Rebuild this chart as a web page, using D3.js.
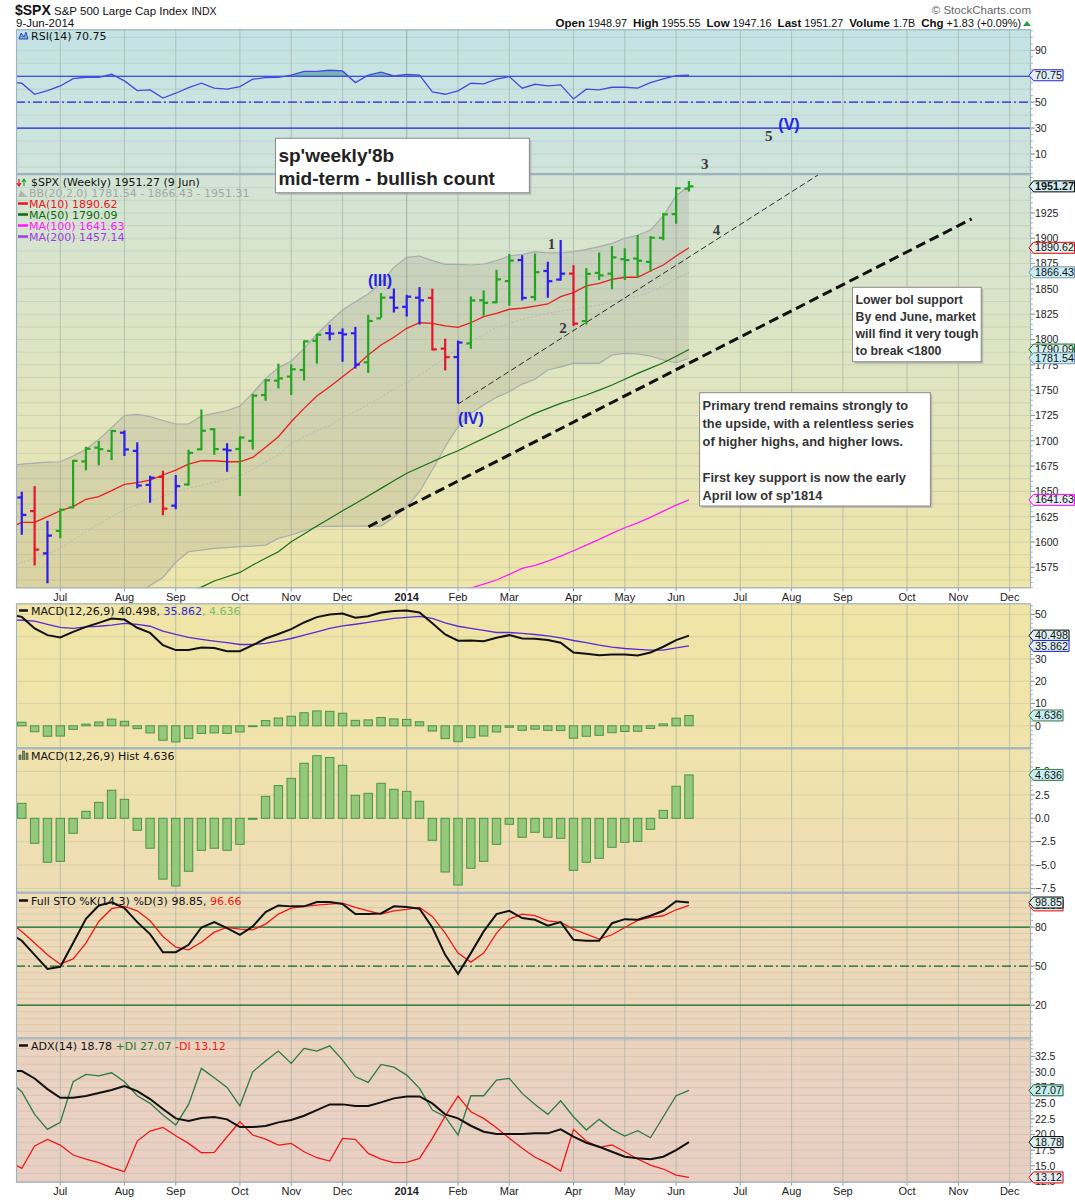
<!DOCTYPE html>
<html><head><meta charset="utf-8">
<script src="https://cdn.jsdelivr.net/npm/d3@7/dist/d3.min.js"></script>
<style>body{margin:0;background:#fff}svg{display:block}</style>
</head><body>
<svg id="c" width="1075" height="1200"></svg>
<script>
// ---------------- DATA ----------------
// first week (2013-06-03) lies just left of the visible window; it only feeds the lines' left edge
const weeks = ["2013-06-03","2013-06-10","2013-06-17","2013-06-24","2013-07-01","2013-07-08","2013-07-15","2013-07-22","2013-07-29","2013-08-05","2013-08-12","2013-08-19","2013-08-26","2013-09-02","2013-09-09","2013-09-16","2013-09-23","2013-09-30","2013-10-07","2013-10-14","2013-10-21","2013-10-28","2013-11-04","2013-11-11","2013-11-18","2013-11-25","2013-12-02","2013-12-09","2013-12-16","2013-12-23","2013-12-30","2014-01-06","2014-01-13","2014-01-20","2014-01-27","2014-02-03","2014-02-10","2014-02-17","2014-02-24","2014-03-03","2014-03-10","2014-03-17","2014-03-24","2014-03-31","2014-04-07","2014-04-14","2014-04-21","2014-04-28","2014-05-05","2014-05-12","2014-05-19","2014-05-26","2014-06-02","2014-06-09"];
const open = [1631.7,1644.0,1630.6,1588.8,1611.0,1634.2,1679.6,1693.2,1690.0,1708.0,1690.0,1656.4,1664.3,1635.9,1656.8,1691.6,1711.4,1691.4,1691.9,1699.9,1745.2,1759.4,1763.4,1769.9,1798.8,1806.3,1806.6,1806.2,1777.5,1820.9,1841.5,1832.3,1841.3,1841.1,1791.0,1782.7,1796.2,1838.8,1836.8,1857.7,1878.5,1842.0,1867.7,1859.2,1865.1,1818.2,1865.8,1865.0,1879.4,1880.0,1876.7,1900.5,1923.9,1948.97];
const high = [1646.5,1648.7,1654.2,1620.1,1632.1,1680.2,1693.1,1698.8,1709.7,1709.2,1697.5,1664.5,1669.5,1665.2,1690.2,1729.9,1711.4,1696.6,1703.4,1745.3,1759.8,1775.2,1774.5,1798.2,1804.8,1813.6,1810.0,1811.5,1823.4,1844.9,1849.4,1843.2,1850.8,1849.3,1799.9,1798.0,1841.6,1847.5,1867.9,1883.6,1882.4,1884.0,1875.9,1897.3,1872.5,1869.6,1884.9,1891.3,1889.1,1902.2,1901.3,1924.0,1949.5,1955.55];
const low = [1598.2,1608.1,1577.7,1560.3,1604.6,1634.2,1671.8,1676.7,1681.9,1686.0,1654.0,1639.8,1627.5,1633.4,1656.8,1691.6,1687.1,1670.4,1646.5,1692.4,1740.5,1752.7,1746.2,1760.6,1777.2,1800.1,1779.1,1772.3,1768.0,1822.4,1827.7,1823.7,1815.8,1790.3,1770.5,1737.9,1791.8,1824.6,1836.8,1834.4,1839.6,1839.5,1842.3,1859.2,1814.4,1815.8,1859.7,1850.6,1859.8,1862.4,1868.1,1899.0,1915.4,1947.16];
const close = [1643.38,1626.73,1592.43,1606.28,1631.89,1680.19,1692.09,1691.65,1709.67,1691.42,1655.83,1663.5,1632.97,1655.17,1687.99,1709.91,1691.75,1690.5,1703.2,1744.5,1759.77,1761.64,1770.61,1798.18,1804.76,1805.81,1805.09,1775.32,1818.32,1841.4,1831.37,1842.37,1838.7,1790.29,1782.59,1797.02,1838.63,1836.25,1859.45,1878.04,1841.13,1866.52,1857.62,1865.09,1815.69,1864.85,1863.4,1881.14,1878.48,1877.86,1900.53,1923.57,1949.44,1951.27];
const barColorCodes = "GBRBGGGGGBBBRBGGGBGGGGGGGBBBGGBBBRRBGGGGBGBBRGGGGGGGGG";
const bbUpper = [1675,1677,1678,1679,1679.3,1685,1691.6,1701.4,1713,1724.8,1726.1,1723.8,1720,1716.6,1716.6,1724.5,1727.1,1729.7,1734.3,1747,1761.7,1772.2,1778.8,1791.3,1805.2,1817.6,1829.2,1837.4,1845,1856.1,1871.3,1881.2,1882.5,1877.9,1874.3,1874.3,1873.6,1874.6,1877.9,1882.5,1884.2,1886.8,1885.5,1885.5,1886.8,1889,1891.7,1895,1900,1903,1908,1922,1942,1951.31];
const bbMid = [1574,1580,1584,1588,1594,1602,1610,1618,1625,1632,1637,1641,1645,1650,1653,1656,1659,1662,1666,1671,1679,1686,1697,1704,1710,1715,1723,1729,1736,1743,1751,1757,1765,1773,1782,1791,1798,1805,1812,1816,1820,1823,1826,1828,1830,1832,1834,1837,1840,1843,1847,1853,1860,1866.43];
const bbLower = [1478,1483,1490,1497,1509,1519,1528,1535,1537,1540,1548,1557,1565,1580,1590.4,1592,1593.8,1594.5,1595.4,1596,1597,1603.6,1606.9,1611,1615.1,1615.5,1615.8,1615.8,1615.8,1615.8,1624.4,1634.9,1649.7,1671.1,1694.1,1714,1727.1,1735.3,1742.9,1748.5,1756,1760.7,1769.9,1773,1776.5,1776.5,1776.5,1784.7,1786.4,1785.7,1783.7,1779.8,1777.1,1781.54];
const ma10 = [1613.7,1619.4,1619.4,1625,1630.9,1635,1642.2,1644.8,1650.7,1657,1658.6,1661.2,1666.2,1671.1,1677,1680.3,1680.3,1679.3,1679.3,1683.6,1693.5,1704,1718.8,1732,1744.2,1753.4,1763.3,1773.2,1784.7,1794.6,1802.2,1811.1,1816.6,1816,1813.4,1812.1,1816.6,1822.6,1825.9,1829.9,1830.9,1833.1,1835.1,1842.3,1846.3,1852.9,1855.5,1859.5,1861.5,1861.5,1867.7,1873.6,1882.5,1890.62];
const ma50 = [null,null,null,null,null,null,null,null,null,null,null,null,null,null,1550,1555.5,1561.5,1565.7,1570,1577.3,1584,1590.4,1600.3,1608,1615.8,1623.3,1630.9,1638,1645.4,1653,1660.5,1667.9,1673.6,1679.3,1685,1690.2,1696.3,1702.4,1708.5,1714.6,1721,1727.1,1732,1737,1741,1745.2,1750,1755.1,1760.8,1766.6,1771.8,1777.1,1783.5,1790.09];
const ma100 = [null,null,null,null,null,null,null,null,null,null,null,null,null,null,null,null,null,null,null,null,null,null,null,null,null,null,null,null,null,null,null,null,null,null,null,1550,1554.5,1558.5,1562.5,1568,1574,1577,1581.2,1586,1591.4,1597,1602.7,1608.5,1614.1,1619,1624.4,1630.5,1636.5,1641.63];
const ma200Last = 1457.14;
const rsi = [65.5,64.6,56.1,58.9,62.5,68.2,69.2,69.2,71.5,66.4,58.9,59.5,53.1,56.9,61.2,64.6,60.8,60.0,62.0,67.7,68.9,69.2,70.8,73.8,73.8,74.6,74.1,65.1,70.8,73.1,70.2,71.5,70.8,57.9,56.1,58.7,64.6,64.1,67.7,69.7,60.8,63.8,62.5,63.3,52.5,60.0,59.5,61.5,61.5,60.8,65.1,67.9,70.5,70.75];
const macd = [50.0,48.9,43.7,40.7,39.7,42.2,44.4,46.2,48.2,47.7,44.0,41.7,36.2,34.0,34.0,35.2,34.9,33.5,33.5,36.2,39.2,41.2,43.4,46.4,48.8,50.0,50.4,48.5,49.2,50.9,51.5,51.8,50.9,46.0,41.0,38.2,38.3,38.0,39.5,40.7,39.2,39.1,38.5,37.3,32.9,32.3,31.7,32.0,32.0,31.6,32.9,35.5,38.5,40.498];
const macdSignal = [47.6,47.4,47.0,45.5,44.2,43.7,44.4,44.7,45.2,46.0,45.5,44.7,42.5,41.0,39.7,38.8,38.0,37.3,36.5,36.5,37.0,38.0,39.2,40.7,42.2,43.7,44.9,45.6,46.4,47.3,48.2,48.7,49.1,48.2,46.2,44.7,43.7,42.8,41.9,41.9,41.5,41.0,40.4,39.5,38.3,37.3,36.2,35.3,34.7,34.3,34.0,34.0,35.0,35.862];
const macdHist = [2.4,1.6,-2.67,-4.7,-4.6,-1.6,0.75,1.7,3.0,2.03,-1.28,-3.2,-6.5,-7.23,-5.66,-3.42,-3.2,-3.42,-2.78,-0.1,2.35,3.5,4.27,5.88,6.69,6.5,5.66,2.46,2.67,3.74,3.1,2.88,1.82,-2.35,-5.74,-7.13,-5.34,-4.6,-2.78,-0.64,-2.03,-1.5,-2.03,-2.14,-5.56,-4.7,-4.27,-3.1,-2.56,-2.46,-1.18,0.85,3.42,4.636];
const stoK = [75.7,69.5,58.7,47.9,49.5,67.7,86.4,96.6,99.0,94.6,83.8,74.6,60.7,60.7,66.4,79.7,83.8,79.2,74.1,80.5,91.5,96.6,95.9,95.9,99.2,99.2,97.7,90.0,90.0,90.5,95.9,95.4,94.1,79.7,58.7,44.1,60.0,76.7,90.0,92.5,86.9,85.6,81.0,83.8,70.2,69.5,69.5,83.0,86.1,85.6,88.7,92.5,99.8,98.85];
const stoD = [84.0,76.6,67.7,58.7,51.5,55.6,67.7,84.3,94.1,95.9,92.5,84.8,72.8,64.6,62.5,68.4,76.1,79.7,78.4,77.9,82.3,90.0,94.6,95.9,96.9,97.7,98.4,95.1,92.5,90.0,92.5,93.6,95.1,88.2,75.4,60.0,53.1,60.0,75.4,86.1,90.0,88.8,84.8,83.6,78.4,74.6,70.8,74.1,79.7,85.1,87.4,88.7,93.3,96.66];
const adx = [30.2,30.15,28.97,27.27,25.88,25.88,26.15,26.63,27.11,27.75,26.95,25.67,24.07,22.58,22.15,22.63,22.79,22.42,21.19,21.19,21.35,21.94,22.31,23.0,23.91,24.82,24.82,24.55,24.55,25.14,25.78,26.09,26.09,24.98,23.22,22.58,21.4,20.44,20.07,20.07,20.07,20.2,20.18,20.82,19.64,18.68,18.04,17.24,16.44,16.18,16.02,16.44,17.51,18.78];
const plusDI = [28.6,26.84,23.22,20.82,21.94,28.44,29.62,29.4,29.88,28.44,26.2,24.98,23.11,21.51,24.82,30.58,29.08,27.54,24.6,30.04,31.75,33.35,31.38,33.78,33.35,34.2,31.91,29.24,28.34,31.22,30.79,29.51,27.38,23.91,22.84,19.91,26.2,26.2,28.71,28.98,26.58,24.8,23.22,25.4,22.84,20.71,22.42,20.82,19.75,20.6,19.48,22.84,26.2,27.07];
const minusDI = [15.7,14.58,18.15,19.22,18.31,16.71,16.07,15.48,14.68,14.04,18.95,20.55,21.14,19.8,18.58,17.08,17.14,19.64,22.04,19.91,19.27,18.31,18.58,17.24,16.28,15.75,19.38,19.22,16.98,16.07,15.48,15.54,16.18,19.38,22.95,26.15,23.64,22.58,21.08,19.38,17.78,16.35,15.38,14.15,20.82,18.95,17.94,18.31,17.24,16.07,15.11,14.47,13.51,13.12];
const monthLabels = ["Jul","Aug","Sep","Oct","Nov","Dec","2014","Feb","Mar","Apr","May","Jun","Jul","Aug","Sep","Oct","Nov","Dec"];
const monthWeek = [4,9,13,18,22,26,31,35,39,44,48,52,57,61,65,70,74,78];
const rsiTicks = [90,50,30,10];
const priceTicks = [1925,1900,1875,1850,1825,1800,1775,1750,1725,1700,1675,1650,1625,1600,1575];
const macdTicks = [50,30,20,10,0];
const histTicks = [5.0,2.5,0.0,-2.5,-5.0,-7.5];
const stoTicks = [80,50,20];
const adxTicks = [32.5,30.0,27.5,25.0,22.5,20.0,17.5,15.0,12.5];
// annotations: [week position, price]
const thinTrend = [[35,1736.3],[63.06,1962.5]];
const thickTrend = [[28.02,1615.1],[75.03,1919.1]];
const waveText = ["(III)","(IV)","(V)","1","2","3","4","5"];
const waveWeek = [28.92,36.01,60.8,42.29,43.18,54.23,55.14,59.21];
const wavePrice = [1858.8,1722.5,2011.9,1894.4,1811.4,1972.9,1908.2,2001.1];
const noteBoxes = [
  {w0:20.77,w1:40.56,p0:1998.8,p1:1945.0,lines:["sp'weekly'8b","mid-term - bullish count"]},
  {w0:65.75,w1:75.78,p0:1851.6,p1:1778.1,lines:["Lower bol support","By end June, market","will find it very tough","to break <1800"]},
  {w0:53.83,w1:71.82,p0:1747.5,p1:1635.6,lines:["Primary trend remains strongly to","the upside, with a relentless series","of higher highs, and higher lows.","","First key support is now the early","April low of sp'1814"]}
];

// ---------------- LAYOUT ----------------
const L = 16, R = 1031;
const svg = d3.select('#c');
const defs = svg.append('defs');
const x = d3.scaleLinear().domain([0.548, 79.66]).range([L, R]);
const last = a => a[a.length-1];

const panelCfg = {
  rsi: {top:29.3, bottom:174, domain:[-5.4,106.2], c:['#c4e3e5','#cfe4db'], grid:d3.range(0,101,10), minor:5},
  main:{top:174, bottom:588.3, domain:[1554.3,1963.5], c:['#d2e4d6','#eee5a9'], grid:d3.range(1562.5,1963,12.5), minor:5},
  macd:{top:603.3, bottom:748.3, domain:[-10.1,55.0], c:['#f0e5a6','#f0e3ab'], grid:d3.range(-10,51,10), minor:2},
  hist:{top:748.3, bottom:892.7, domain:[-7.95,7.48], c:['#f0e3ac','#eedcb4'], grid:d3.range(-7.5,7.6,2.5), minor:0.5},
  sto: {top:892.7, bottom:1038.3, domain:[-5.4,106.4], c:['#eedcb5','#ecd5bc'], grid:d3.range(0,101,5), minor:5},
  adx: {top:1038.3, bottom:1182.7, domain:[12.28,35.4], c:['#ebd3bf','#e9cfc3'], grid:d3.range(12.5,35.1,1.25), minor:0.625}
};
const P = {};
Object.entries(panelCfg).forEach(([k,c])=>{
  const y = d3.scaleLinear().domain(c.domain).range([c.bottom,c.top]);
  const gr = defs.append('linearGradient').attr('id','bg-'+k).attr('x1',0).attr('y1',0).attr('x2',0).attr('y2',1);
  gr.append('stop').attr('offset',0).attr('stop-color',c.c[0]);
  gr.append('stop').attr('offset',1).attr('stop-color',c.c[1]);
  svg.append('rect').attr('x',L).attr('y',c.top).attr('width',R-L).attr('height',c.bottom-c.top).attr('fill','url(#bg-'+k+')');
  defs.append('clipPath').attr('id','clip-'+k).append('rect').attr('x',L).attr('y',c.top).attr('width',R-L).attr('height',c.bottom-c.top);
  svg.append('g').selectAll('line').data(c.grid).join('line')
    .attr('x1',L).attr('x2',R).attr('y1',d=>y(d)).attr('y2',d=>y(d))
    .attr('stroke','#9aa89c').attr('stroke-opacity',0.28).attr('stroke-width',1);
  svg.append('g').selectAll('line').data(monthWeek).join('line')
    .attr('x1',d=>x(d)).attr('x2',d=>x(d)).attr('y1',c.top).attr('y2',c.bottom)
    .attr('stroke',(d,i)=>monthLabels[i]==='2014'?'#8c9c94':'#a8b4aa').attr('stroke-opacity',0.75).attr('stroke-width',1);
  const mt = d3.range(Math.ceil(c.domain[0]/c.minor)*c.minor, c.domain[1], c.minor);
  svg.append('g').selectAll('line').data(mt).join('line')
    .attr('x1',R).attr('x2',R+2).attr('y1',d=>y(d)).attr('y2',d=>y(d)).attr('stroke','#9aaab2').attr('stroke-width',0.8);
  const g = svg.append('g').attr('clip-path','url(#clip-'+k+')');
  P[k] = {y, g, c};
});

const lineGen = (y)=>d3.line().defined(d=>d!=null).x((d,i)=>x(i)).y(d=>y(d));

// ---------------- RSI ----------------
{
  const {y,g} = P.rsi;
  defs.append('clipPath').attr('id','clip-rsi70').append('rect').attr('x',L).attr('y',P.rsi.c.top).attr('width',R-L).attr('height',y(70)-P.rsi.c.top);
  g.append('path').datum(rsi).attr('clip-path','url(#clip-rsi70)')
    .attr('d',d3.area().x((d,i)=>x(i)).y0(y(70)).y1(d=>y(d)))
    .attr('fill','#5fa8a8').attr('fill-opacity',0.75);
  [70,30].forEach(v=>g.append('line').attr('x1',L).attr('x2',R).attr('y1',y(v)).attr('y2',y(v)).attr('stroke','#2424dc').attr('stroke-width',1.2));
  g.append('line').attr('x1',L).attr('x2',R).attr('y1',y(50)).attr('y2',y(50)).attr('stroke','#2424dc').attr('stroke-width',1.2).attr('stroke-dasharray','9,3,2,3');
  g.append('path').datum(rsi).attr('d',lineGen(y)).attr('fill','none').attr('stroke','#4848e0').attr('stroke-width',1.3);
}

// ---------------- MAIN ----------------
{
  const {y,g} = P.main;
  const idx = d3.range(weeks.length);
  g.append('path').datum(idx).attr('d',d3.area().x(i=>x(i)).y0(i=>y(bbLower[i])).y1(i=>y(bbUpper[i])))
    .attr('fill','#7a7a78').attr('fill-opacity',0.17);
  g.append('path').datum(bbUpper).attr('d',lineGen(y)).attr('fill','none').attr('stroke','#a6adab').attr('stroke-width',1.2);
  g.append('path').datum(bbLower).attr('d',lineGen(y)).attr('fill','none').attr('stroke','#a6adab').attr('stroke-width',1.2);
  g.append('path').datum(bbMid).attr('d',lineGen(y)).attr('fill','none').attr('stroke','#b4bab2').attr('stroke-width',1).attr('stroke-dasharray','2,2');
  g.append('path').datum(ma100).attr('d',lineGen(y)).attr('fill','none').attr('stroke','#ff1cff').attr('stroke-width',1.3);
  g.append('path').datum(ma50).attr('d',lineGen(y)).attr('fill','none').attr('stroke','#157015').attr('stroke-width',1.2);
  g.append('path').datum(ma10).attr('d',lineGen(y)).attr('fill','none').attr('stroke','#e82020').attr('stroke-width',1.3);
  const col = {B:'#2d1cf2', G:'#22a622', R:'#e8142c'};
  const bars = g.append('g').attr('stroke-width',2.2).attr('fill','none');
  idx.forEach(i=>{
    const c = col[barColorCodes[i]], cx = x(i);
    bars.append('line').attr('x1',cx).attr('x2',cx).attr('y1',y(high[i])-1).attr('y2',y(low[i])+1).attr('stroke',c);
    bars.append('line').attr('x1',cx-4.5).attr('x2',cx).attr('y1',y(open[i])).attr('y2',y(open[i])).attr('stroke',c);
    bars.append('line').attr('x1',cx).attr('x2',cx+4.5).attr('y1',y(close[i])).attr('y2',y(close[i])).attr('stroke',c);
  });
}
{
  const y = P.main.y;
  svg.append('line').attr('x1',x(thinTrend[0][0])).attr('y1',y(thinTrend[0][1])).attr('x2',x(thinTrend[1][0])).attr('y2',y(thinTrend[1][1]))
    .attr('stroke','#2a2a2a').attr('stroke-width',1).attr('stroke-dasharray','6,3');
  svg.append('line').attr('x1',x(thickTrend[0][0])).attr('y1',y(thickTrend[0][1])).attr('x2',x(thickTrend[1][0])).attr('y2',y(thickTrend[1][1]))
    .attr('stroke','#111').attr('stroke-width',3).attr('stroke-dasharray','10,5');
}

// ---------------- MACD ----------------
{
  const {y,g} = P.macd;
  g.selectAll('rect.h').data(macdHist).join('rect')
    .attr('x',(d,i)=>x(i)-4.2).attr('width',8.4)
    .attr('y',d=>Math.min(y(d),y(0))).attr('height',d=>Math.max(0.8,Math.abs(y(d)-y(0))))
    .attr('fill','#94c97c').attr('stroke','#4b9446').attr('stroke-width',1);
  g.append('path').datum(macdSignal).attr('d',lineGen(y)).attr('fill','none').attr('stroke','#5a2ad6').attr('stroke-width',1.3);
  g.append('path').datum(macd).attr('d',lineGen(y)).attr('fill','none').attr('stroke','#111').attr('stroke-width',2);
}
{
  const {y,g} = P.hist;
  g.selectAll('rect.h').data(macdHist).join('rect')
    .attr('x',(d,i)=>x(i)-4.2).attr('width',8.4)
    .attr('y',d=>Math.min(y(d),y(0))).attr('height',d=>Math.max(1,Math.abs(y(d)-y(0))))
    .attr('fill','#94c97c').attr('stroke','#4b9446').attr('stroke-width',1);
}
// ---------------- STO ----------------
{
  const {y,g} = P.sto;
  [80,20].forEach(v=>g.append('line').attr('x1',L).attr('x2',R).attr('y1',y(v)).attr('y2',y(v)).attr('stroke','#0b6a2c').attr('stroke-width',1.3));
  g.append('line').attr('x1',L).attr('x2',R).attr('y1',y(50)).attr('y2',y(50)).attr('stroke','#0b6a2c').attr('stroke-width',1.2).attr('stroke-dasharray','9,3,2,3');
  g.append('path').datum(stoD).attr('d',lineGen(y)).attr('fill','none').attr('stroke','#f01818').attr('stroke-width',1.3);
  g.append('path').datum(stoK).attr('d',lineGen(y)).attr('fill','none').attr('stroke','#111').attr('stroke-width',2);
}
// ---------------- ADX ----------------
{
  const {y,g} = P.adx;
  g.append('path').datum(plusDI).attr('d',lineGen(y)).attr('fill','none').attr('stroke','#2a7a44').attr('stroke-width',1.3);
  g.append('path').datum(minusDI).attr('d',lineGen(y)).attr('fill','none').attr('stroke','#f01818').attr('stroke-width',1.3);
  g.append('path').datum(adx).attr('d',lineGen(y)).attr('fill','none').attr('stroke','#111').attr('stroke-width',2);
}

Object.values(P).forEach(p=>{
  svg.append('rect').attr('x',L+0.5).attr('y',p.c.top+0.5).attr('width',R-L-1).attr('height',p.c.bottom-p.c.top-1)
    .attr('fill','none').attr('stroke','#9db3bd').attr('stroke-width',1.2);
});

// ---------------- AXES ----------------
const AX = "'Liberation Sans', Arial, sans-serif";
const LG = "'DejaVu Sans', Verdana, sans-serif";
function yLabels(p, ticks, fmt){
  ticks.forEach(v=>{
    const yy = p.y(v);
    svg.append('line').attr('x1',R).attr('x2',R+4).attr('y1',yy).attr('y2',yy).attr('stroke','#8a9aa2');
    svg.append('text').attr('x',R+4).attr('y',yy+3.8).text(fmt(v)).style('font-family',AX).style('font-size','10.5px').attr('fill','#222');
  });
}
yLabels(P.rsi, rsiTicks, d3.format('d'));
yLabels(P.main, priceTicks, d3.format('d'));
yLabels(P.macd, macdTicks, d3.format('d'));
yLabels(P.hist, histTicks, d3.format('.1f'));
yLabels(P.sto, stoTicks, d3.format('d'));
yLabels(P.adx, adxTicks, d3.format('.1f'));

function monthAxis(yBottom){
  monthWeek.forEach((w,i)=>{
    svg.append('line').attr('x1',x(w)).attr('x2',x(w)).attr('y1',yBottom).attr('y2',yBottom+3).attr('stroke','#8a9aa2');
    svg.append('text').attr('x',x(w)).attr('y',yBottom+12.5).attr('text-anchor','middle').text(monthLabels[i])
      .style('font-family',AX).style('font-size','11px').style('font-weight',monthLabels[i]==='2014'?'bold':'normal').attr('fill','#222');
  });
}
monthAxis(P.main.c.bottom);
monthAxis(P.adx.c.bottom);

function tag(p, v, label, st){
  const yy = p.y(v);
  const g = svg.append('g');
  const t = g.append('text').attr('x',R+4).attr('y',yy+3.6).text(label)
    .style('font-family',AX).style('font-size','10.8px').style('font-weight',st.bold?'bold':'normal').attr('fill','#111');
  const w = t.node().getComputedTextLength();
  const x0 = R-2, x1 = Math.min(1074.5, R+5+w);
  g.insert('path','text').attr('d',`M${x0},${yy} L${x0+4.5},${yy-5.5} L${x1},${yy-5.5} L${x1},${yy+5.5} L${x0+4.5},${yy+5.5} Z`)
    .attr('fill',st.fill).attr('stroke',st.stroke).attr('stroke-width',1);
}
const f2 = d3.format('.2f'), f3 = d3.format('.3f');
tag(P.rsi, last(rsi), f2(last(rsi)), {stroke:'#2424dc', fill:'#e2eef6'});
tag(P.main, last(close), f2(last(close)), {stroke:'#000', fill:'#d4f0f6', bold:true});
tag(P.main, last(ma10), f2(last(ma10)), {stroke:'#e00000', fill:'#e4f2f4'});
tag(P.main, last(bbMid), f2(last(bbMid)), {stroke:'#7d92a6', fill:'#c6eef6'});
tag(P.main, last(ma50), f2(last(ma50)), {stroke:'#107010', fill:'#d8f0ee'});
tag(P.main, last(bbLower), f2(last(bbLower)), {stroke:'#7d92a6', fill:'#c6eef6'});
tag(P.main, last(ma100), f2(last(ma100)), {stroke:'#ff00ff', fill:'#e8eef4'});
tag(P.macd, last(macd), f3(last(macd)), {stroke:'#000', fill:'#ddf0f0'});
tag(P.macd, last(macdSignal), f3(last(macdSignal)), {stroke:'#2020e0', fill:'#ddeef4'});
tag(P.macd, last(macdHist), f3(last(macdHist)), {stroke:'#3a7a4a', fill:'#c6eef0'});
tag(P.hist, last(macdHist), f3(last(macdHist)), {stroke:'#3a7a4a', fill:'#c6eef0'});
tag(P.sto, last(stoD), f2(last(stoD)), {stroke:'#e00000', fill:'#e4eef0'});
tag(P.sto, last(stoK), f2(last(stoK)), {stroke:'#000', fill:'#ddf0f0'});
tag(P.adx, last(plusDI), f2(last(plusDI)), {stroke:'#106030', fill:'#c6eef0'});
tag(P.adx, last(adx), f2(last(adx)), {stroke:'#000', fill:'#ddf0f0'});
tag(P.adx, last(minusDI), f2(last(minusDI)), {stroke:'#e00000', fill:'#e4eef0'});

// ---------------- HEADER ----------------
svg.append('text').attr('x',15).attr('y',15).text('$SPX').style('font-family',AX).style('font-size','14px').style('font-weight','bold').attr('fill','#111');
svg.append('text').attr('x',54).attr('y',15).text('S&P 500 Large Cap Index').style('font-family',AX).style('font-size','11.5px').attr('fill','#111')
  .append('tspan').attr('dx',4).text('INDX').style('font-size','10.5px');
svg.append('text').attr('x',16).attr('y',27).text('9-Jun-2014').style('font-family',AX).style('font-size','11.5px').attr('fill','#111');
svg.append('text').attr('x',1031).attr('y',14).attr('text-anchor','end').text('© StockCharts.com').style('font-family',AX).style('font-size','11.5px').attr('fill','#666');
{
  const t = svg.append('text').attr('x',1021).attr('y',27).attr('text-anchor','end').style('font-family',AX).style('font-size','10.8px').attr('fill','#111');
  const parts = [['Open',f2(last(open))],['High',f2(last(high))],['Low',f2(last(low))],['Last',f2(last(close))],['Volume','1.7B'],['Chg','+1.83 (+0.09%)']];
  parts.forEach(([k,v],i)=>{
    t.append('tspan').attr('dx',i?6:0).text(k).style('font-weight','bold').style('font-size','11.5px');
    t.append('tspan').attr('dx',3).text(v);
  });
  svg.append('path').attr('d','M1023,26 L1027,21 L1031,26 Z').attr('fill','#2a9a4a');
}

// ---------------- LEGENDS ----------------
function legend(xx, yy, parts){
  const t = svg.append('text').attr('x',xx).attr('y',yy).style('font-family',LG).style('font-size','11px');
  parts.forEach(([s,c])=>t.append('tspan').text(s).attr('fill',c));
}
svg.append('path').attr('d','M19,39 L21,33 L24,37 L26,32 L28,39 Z').attr('fill','#6ab2b2').attr('stroke','#2424dc').attr('stroke-width',0.8);
legend(31, 39.5, [['RSI(14) '+last(rsi),'#111']]);
svg.append('path').attr('d','M19,179 L19,185 M17,183 L19,186 L21,183').attr('stroke','#e8142c').attr('fill','none').attr('stroke-width',1.2);
svg.append('path').attr('d','M24,186 L24,180 M22,182 L24,179 L26,182').attr('stroke','#22a622').attr('fill','none').attr('stroke-width',1.2);
legend(31, 185.5, [['$SPX (Weekly) '+f2(last(close))+' (9 Jun)','#111']]);
svg.append('path').attr('d','M18,197 L21,190 L24,194 L28,197 Z').attr('fill','#b0b4b0');
legend(29, 196.5, [['BB(20,2.0) '+f2(last(bbLower))+' - '+f2(last(bbMid))+' - '+f2(last(bbUpper)),'#a2a8a6']]);
const maLeg = [['MA(10) '+f2(last(ma10)),'#e8141c'],['MA(50) '+f2(last(ma50)),'#0f6a0f'],['MA(100) '+f2(last(ma100)),'#ff18ff'],['MA(200) '+f2(ma200Last),'#9b3ce6']];
maLeg.forEach(([s,c],i)=>{
  const yy = 207.5 + i*11;
  svg.append('line').attr('x1',18).attr('x2',28).attr('y1',yy-4).attr('y2',yy-4).attr('stroke',c).attr('stroke-width',2.5);
  legend(29, yy, [[s,c]]);
});
svg.append('line').attr('x1',19).attr('x2',28).attr('y1',610.5).attr('y2',610.5).attr('stroke','#111').attr('stroke-width',2.5);
legend(31, 614.5, [['MACD(12,26,9) '+f3(last(macd))+', ','#111'],[f3(last(macdSignal)),'#2a2ad8'],[', '+f3(last(macdHist)),'#7cc060']]);
svg.append('path').attr('d','M19,760 V755 H21 V760 M22.5,760 V751 H24.5 V760 M26,760 V753 H28 V760').attr('fill','#7a9a6a').attr('stroke','#333').attr('stroke-width',0.6);
legend(31, 759.5, [['MACD(12,26,9) Hist '+f3(last(macdHist)),'#111']]);
svg.append('line').attr('x1',19).attr('x2',28).attr('y1',900.5).attr('y2',900.5).attr('stroke','#111').attr('stroke-width',2.5);
legend(31, 904.5, [['Full STO %K(14,3) %D(3) '+f2(last(stoK))+', ','#111'],[f2(last(stoD)),'#f01818']]);
svg.append('line').attr('x1',19).attr('x2',28).attr('y1',1045.5).attr('y2',1045.5).attr('stroke','#111').attr('stroke-width',2.5);
legend(31, 1049.5, [['ADX(14) '+f2(last(adx))+' ','#111'],['+DI '+f2(last(plusDI))+' ','#1f7a34'],['-DI '+f2(last(minusDI)),'#f01818']]);

// ---------------- ANNOTATIONS ----------------
{
  const y = P.main.y;
  waveText.forEach((t,i)=>{
    const isRoman = t.startsWith('(');
    svg.append('text').attr('x',x(waveWeek[i])).attr('y',y(wavePrice[i])).attr('text-anchor','middle').attr('dominant-baseline','central')
      .text(t).style('font-family',isRoman?AX:"'Liberation Serif', 'Times New Roman', serif")
      .style('font-size',isRoman?'16px':'15px').style('font-weight','bold').attr('fill',isRoman?'#1f24e8':'#3a3a3a');
  });
  noteBoxes.forEach((b,bi)=>{
    const x0=x(b.w0), x1=x(b.w1), y0=y(b.p0), y1=y(b.p1);
    svg.append('rect').attr('x',x0+2).attr('y',y0+2).attr('width',x1-x0).attr('height',y1-y0).attr('fill','#9a9a9a').attr('opacity',0.55);
    svg.append('rect').attr('x',x0).attr('y',y0).attr('width',x1-x0).attr('height',y1-y0).attr('fill','#fff').attr('stroke','#8a8a8a').attr('stroke-width',1);
    const fs = bi===0?19:(bi===1?12.3:12.8);
    const lh = bi===0?23:(bi===1?16.8:18);
    const top = bi===0?y0+23.5:y0+17;
    b.lines.forEach((ln,li)=>{
      svg.append('text').attr('x',x0+3).attr('y',top+li*lh).text(ln)
        .style('font-family',AX).style('font-size',fs+'px').style('font-weight','bold').attr('fill',bi===0?'#222':'#333');
    });
  });
}
</script>
</body></html>
